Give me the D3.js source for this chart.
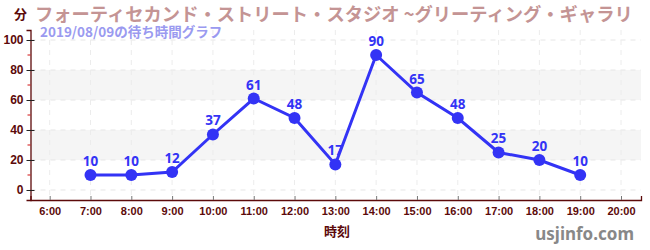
<!DOCTYPE html>
<html>
<head>
<meta charset="utf-8">
<script src="https://cdn.jsdelivr.net/npm/d3@7"></script>
<style>
  body { margin: 0; background: #fff; }
  svg { display: block; font-family: "DejaVu Sans Condensed", "DejaVu Sans", sans-serif; }
</style>
</head>
<body>
<svg id="chart" width="650" height="250"></svg>
<script>
// wait times (minutes) by hour
var hours = [7, 8, 9, 10, 11, 12, 13, 14, 15, 16, 17, 18, 19];
var waits = [10, 10, 12, 37, 61, 48, 17, 90, 65, 48, 25, 20, 10];
var hourTicks = [6, 7, 8, 9, 10, 11, 12, 13, 14, 15, 16, 17, 18, 19, 20];
var yTicks = [0, 20, 40, 60, 80, 100];
var yMinor = [10, 30, 50, 70, 90];
var bands = [[20, 40], [60, 80]];

var maroon = '#5c0a0a',
  blue = '#3333f5';

var svg = d3.select('#chart');

var x = d3.scaleLinear().domain([5.53, 20.49]).range([30.5, 641]);
var y = d3.scaleLinear().domain([-6.67, 106.67]).range([200, 30]);

var plot = svg.append('g');

// shaded bands
plot.selectAll('.band')
  .data(bands)
  .enter().append('rect')
  .attr('x', x.range()[0])
  .attr('width', x.range()[1] - x.range()[0])
  .attr('y', function (d) { return y(d[1]); })
  .attr('height', function (d) { return y(d[0]) - y(d[1]); })
  .attr('fill', '#f5f5f5');

// grid
plot.selectAll('.hgrid')
  .data(yTicks)
  .enter().append('line')
  .attr('x1', x.range()[0]).attr('x2', x.range()[1])
  .attr('y1', function (d) { return y(d); })
  .attr('y2', function (d) { return y(d); })
  .attr('stroke', '#e6e6e6')
  .attr('stroke-dasharray', '5,5');

plot.selectAll('.vgrid')
  .data(hourTicks)
  .enter().append('line')
  .attr('x1', function (d) { return x(d); })
  .attr('x2', function (d) { return x(d); })
  .attr('y1', 30).attr('y2', 200)
  .attr('stroke', '#ececec')
  .attr('stroke-dasharray', '5,5');

// axes
var yAxis = d3.axisLeft(y).tickValues(yTicks).tickSize(4).tickPadding(3);
var gy = svg.append('g')
  .attr('transform', 'translate(' + x.range()[0] + ',0)')
  .call(yAxis);
gy.select('.domain').attr('stroke', maroon).attr('stroke-width', 1.3);
gy.selectAll('.tick line').attr('x2', -4).attr('x1', 4).attr('stroke', '#222');
gy.selectAll('.tick text').attr('fill', maroon).attr('font-size', 12).attr('font-weight', 'bold');

svg.append('g').selectAll('line')
  .data(yMinor)
  .enter().append('line')
  .attr('x1', x.range()[0] - 3).attr('x2', x.range()[0])
  .attr('y1', function (d) { return y(d); })
  .attr('y2', function (d) { return y(d); })
  .attr('stroke', '#d01010');

var xAxis = d3.axisBottom(x).tickValues(hourTicks)
  .tickFormat(function (d) { return d + ':00'; })
  .tickSize(-4).tickPadding(7);
var gx = svg.append('g')
  .attr('transform', 'translate(0,200)')
  .call(xAxis);
gx.select('.domain').attr('stroke', maroon).attr('stroke-width', 1.3);
gx.selectAll('.tick line').attr('stroke', '#777');
gx.selectAll('.tick text').attr('fill', maroon).attr('font-size', 11).attr('font-weight', 'bold');

// line + points
var pts = hours.map(function (h, i) { return [h, waits[i]]; });

svg.append('path')
  .datum(pts)
  .attr('d', d3.line().x(function (d) { return x(d[0]); }).y(function (d) { return y(d[1]); }))
  .attr('fill', 'none')
  .attr('stroke', blue)
  .attr('stroke-width', 3);

svg.selectAll('.dot')
  .data(pts)
  .enter().append('circle')
  .attr('cx', function (d) { return x(d[0]); })
  .attr('cy', function (d) { return y(d[1]); })
  .attr('r', 6)
  .attr('fill', blue);

svg.selectAll('.val')
  .data(pts)
  .enter().append('text')
  .attr('x', function (d) { return x(d[0]); })
  .attr('y', function (d) { return y(d[1]) - 9; })
  .attr('text-anchor', 'middle')
  .attr('fill', blue)
  .attr('font-size', 13.5)
  .attr('font-weight', 'bold')
  .attr('font-family', '"Noto Sans", sans-serif')
  .text(function (d) { return d[1]; });

// titles
svg.append('text')
  .attr('x', 14).attr('y', 19)
  .attr('fill', maroon)
  .attr('font-size', 13)
  .attr('font-weight', 'bold')
  .attr('font-family', '"Noto Sans CJK JP", sans-serif')
  .text('分');

svg.append('text')
  .attr('x', 35).attr('y', 21)
  .attr('fill', '#c49494')
  .attr('font-size', 18.3)
  .attr('font-weight', 'bold')
  .attr('font-family', '"Noto Sans CJK JP", sans-serif')
  .text('フォーティセカンド・ストリート・スタジオ ~グリーティング・ギャラリ');

svg.append('text')
  .attr('x', 40).attr('y', 37)
  .attr('fill', '#9a9af0')
  .attr('font-size', 13.5)
  .attr('font-weight', 'bold')
  .attr('font-family', '"Noto Sans CJK JP", sans-serif')
  .text('2019/08/09の待ち時間グラフ');

svg.append('text')
  .attr('x', 337).attr('y', 236)
  .attr('text-anchor', 'middle')
  .attr('fill', maroon)
  .attr('font-size', 13)
  .attr('font-weight', 'bold')
  .attr('font-family', '"Noto Sans CJK JP", sans-serif')
  .text('時刻');

svg.append('text')
  .attr('x', 634).attr('y', 240)
  .attr('text-anchor', 'end')
  .attr('fill', '#888')
  .attr('font-size', 17)
  .attr('font-weight', 'bold')
  .attr('font-family', '"Noto Sans", sans-serif')
  .text('usjinfo.com');
</script>
</body>
</html>
